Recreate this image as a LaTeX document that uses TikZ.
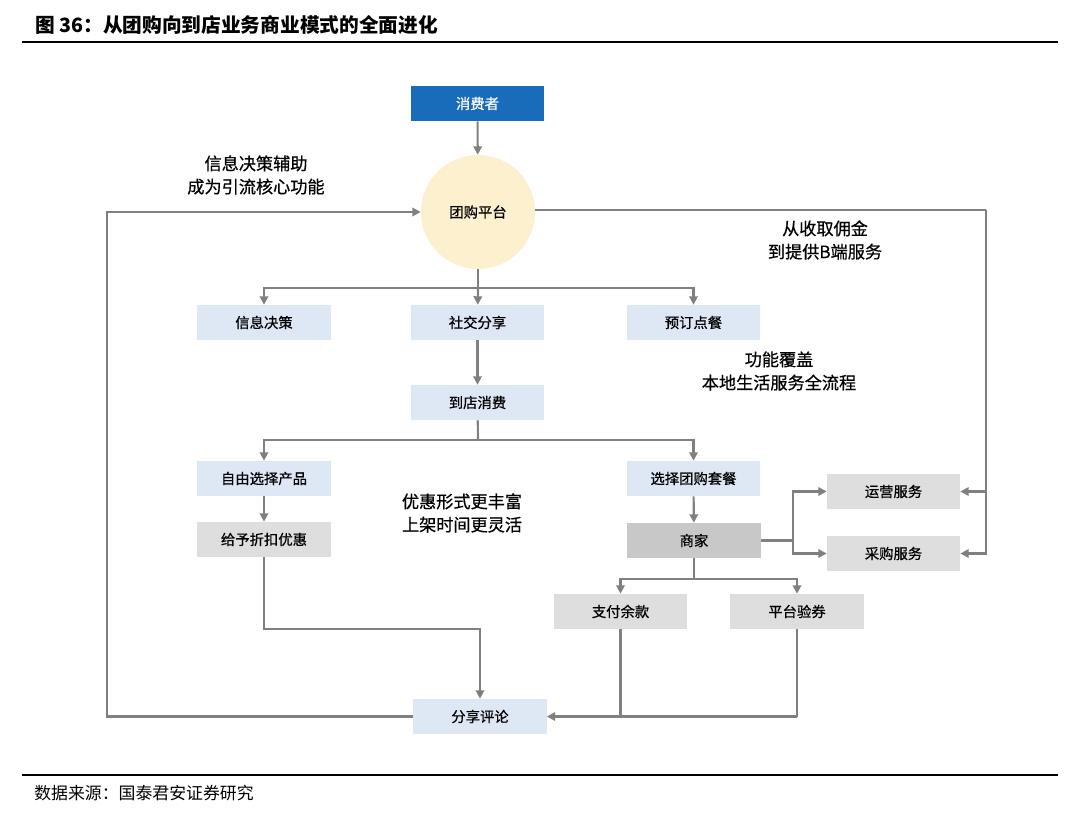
\documentclass[tikz,border=0pt]{standalone}
\usepackage{fontspec}
\setmainfont{Noto Sans CJK SC}
\newfontfamily\boxfont{Noto Sans CJK SC}[FakeBold=0.6]
\usetikzlibrary{arrows.meta}

\definecolor{deepblue}{RGB}{24,108,186}
\definecolor{paleblue}{RGB}{221,232,244}
\definecolor{palegrey}{RGB}{222,222,222}
\definecolor{midgrey}{RGB}{200,200,200}
\definecolor{cream}{RGB}{253,240,206}
\definecolor{linegrey}{RGB}{128,128,128}

\begin{document}
\begin{tikzpicture}
  [
    x=0.025cm, y=-0.025cm,
    >={Triangle[length=6pt,width=6pt]},
    link/.style     = {draw=linegrey, line width=1.5pt},
    box/.style      = {minimum width=3.325cm, minimum height=0.875cm, inner sep=0pt,
                       font=\boxfont\fontsize{10.2}{12}\selectfont},
    bluebox/.style  = {box, fill=paleblue},
    greybox/.style  = {box, fill=palegrey},
    note/.style     = {align=center, font=\boxfont\fontsize{12.2}{16.5}\selectfont},
  ]

  \useasboundingbox (0,0) rectangle (1080,822);

  % heading and footer
  \node (title) at (35,25) [anchor=west, inner sep=0pt, font=\fontsize{14}{16}\selectfont\bfseries]
    {图 36：从团购向到店业务商业模式的全面进化};
  \draw[line width=1.8pt] (22,42) -- (1058,42);
  \draw[line width=1.8pt] (22,775) -- (1058,775);
  \node (source) at (34,793) [anchor=west, inner sep=0pt, font=\fontsize{12}{14}\selectfont]
    {数据来源：国泰君安证券研究};

  % top: consumer and platform
  \node (consumer) at (477.5,103.5) [box, fill=deepblue, text=white] {消费者};
  \node (platform) at (478,212) [circle, fill=cream, minimum size=2.85cm, inner sep=0pt,
                                 font=\boxfont\fontsize{10.2}{12}\selectfont] {团购平台};

  % functions of the platform
  \node (info)    at (264,322.5)   [bluebox] {信息决策};
  \node (social)  at (477.5,322.5) [bluebox] {社交分享};
  \node (booking) at (693.5,322.5) [bluebox] {预订点餐};
  \node (instore) at (477.5,402.5) [bluebox] {到店消费};

  % two ways of buying
  \node (freechoice) at (264,478.5)   [bluebox] {自由选择产品};
  \node (package)    at (693.5,478.5) [bluebox] {选择团购套餐};
  \node (discount)   at (264,539.5)   [greybox] {给予折扣优惠};
  \node (merchant)   at (694,540.5)   [box, fill=midgrey] {商家};

  % B-side services
  \node (operate)  at (893.5,491.5) [greybox] {运营服务};
  \node (purchase) at (893.5,553.5) [greybox] {采购服务};

  % settlement
  \node (payment) at (620.5,611.5) [greybox] {支付余款};
  \node (verify)  at (797,611.5)   [greybox] {平台验券};
  \node (review)  at (480,716.5)   [bluebox] {分享评论};

  % notes
  \node (noteinfo)  at (256,175) [note] {信息决策辅助\\成为引流核心功能};
  \node (notefee)   at (825,240) [note] {从收取佣金\\到提供B端服务};
  \node (notecover) at (779,371) [note] {功能覆盖\\本地生活服务全流程};
  \node (notedeal)  at (462,513) [note] {优惠形式更丰富\\上架时间更灵活};

  % branch points
  \coordinate (split1) at (478,288);
  \coordinate (split2) at (478,440);
  \coordinate (fork)   at (793,540.5);
  \coordinate (corner) at (986,210);
  \coordinate (split3) at (694,579);
  \coordinate (dropin) at (480,629);
  \coordinate (join)   at (797,716.5);
  \coordinate (leftedge) at (107,716.5);

  % connectors
  \draw[link,->] (consumer) -- (platform);
  \draw[link] (platform) -- (split1);
  \draw[link,->] (split1) -| (info);
  \draw[link,->] (split1) -- (social);
  \draw[link,->] (split1) -| (booking);
  \draw[link,->] (social) -- (instore);
  \draw[link] (instore) -- (split2);
  \draw[link,->] (split2) -| (freechoice);
  \draw[link,->] (split2) -| (package);
  \draw[link,->] (freechoice) -- (discount);
  \draw[link,->] (package) -- (merchant);

  \draw[link] (merchant) -- (fork);
  \draw[link,->] (fork) |- (operate);
  \draw[link,->] (fork) |- (purchase);
  \draw[link] (platform.east |- corner) -- (corner);
  \draw[link,->] (corner) |- (operate);
  \draw[link,->] (corner) |- (purchase);

  \draw[link] (merchant) -- (split3);
  \draw[link,->] (split3) -| (payment);
  \draw[link,->] (split3) -| (verify);

  \draw[link,->] (discount) |- (dropin) -- (review);
  \draw[link] (payment) -- (payment |- join);
  \draw[link] (verify) -- (join);
  \draw[link,->] (join) -- (review);
  \draw[link,->] (review) -- (leftedge) |- (platform);
\end{tikzpicture}
\end{document}
